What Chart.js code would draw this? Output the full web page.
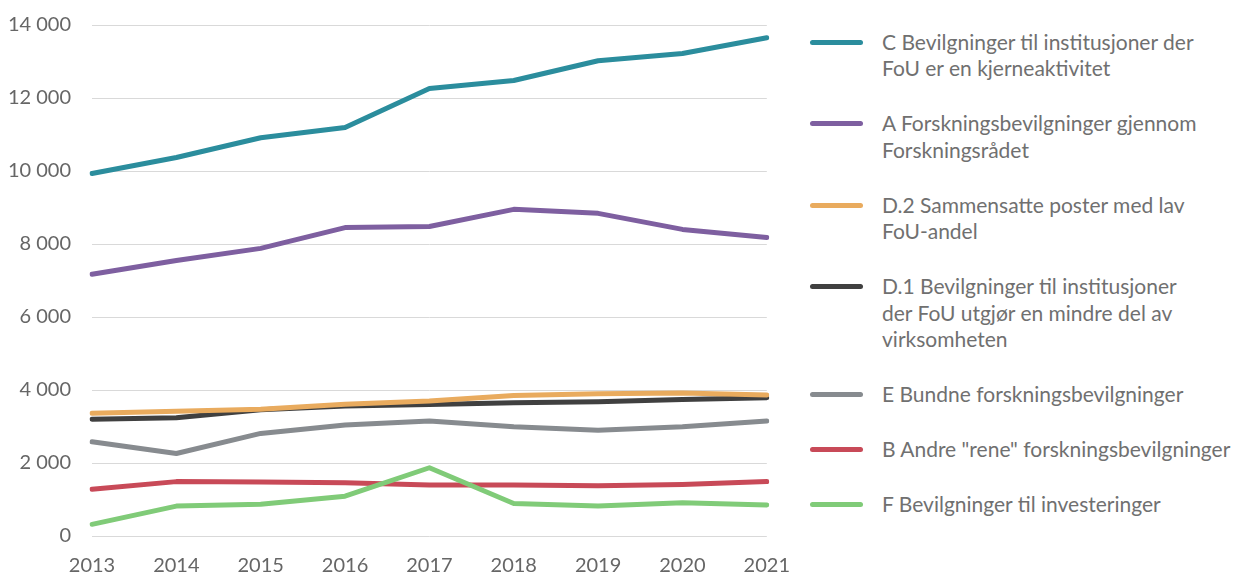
<!DOCTYPE html>
<html>
<head>
<meta charset="utf-8">
<script src="https://cdn.jsdelivr.net/npm/chart.js@4/dist/chart.umd.min.js"></script>
<style>
  html, body { margin: 0; padding: 0; background: #fff; }
  body { width: 1236px; height: 574px; position: relative; overflow: hidden; font-family: Lato, "Open Sans", sans-serif; }
  #wrap { position: absolute; left: 0; top: -8px; width: 808px; height: 582px; }
  #legend { position: absolute; left: 810px; top: 28.5px; color: #707070; font-size: 21px; line-height: 26.5px; }
  .item { display: flex; align-items: flex-start; margin-bottom: 28.5px; }
  .sw { width: 53px; height: 5px; border-radius: 3px; margin-top: 11px; margin-right: 19px; flex: none; }
  .txt { white-space: pre; }
</style>
</head>
<body>
<div id="wrap"><canvas id="c" width="808" height="582"></canvas></div>
<div id="legend"></div>
<script>
const years = ["2013","2014","2015","2016","2017","2018","2019","2020","2021"];
const seriesNames = [
  "C Bevilgninger til institusjoner der\nFoU er en kjerneaktivitet",
  "A Forskningsbevilgninger gjennom\nForskningsrådet",
  "D.2 Sammensatte poster med lav\nFoU-andel",
  "D.1 Bevilgninger til institusjoner\nder FoU utgjør en mindre del av\nvirksomheten",
  "E Bundne forskningsbevilgninger",
  "B Andre \"rene\" forskningsbevilgninger",
  "F Bevilgninger til investeringer"
];
const seriesC  = [9930, 10370, 10910, 11190, 12260, 12480, 13020, 13220, 13650];
const seriesA  = [7170, 7550, 7880, 8450, 8480, 8950, 8840, 8400, 8180];
const seriesD2 = [3360, 3420, 3470, 3610, 3700, 3850, 3900, 3920, 3860];
const seriesD1 = [3200, 3240, 3460, 3560, 3600, 3650, 3680, 3740, 3790];
const seriesE  = [2580, 2260, 2810, 3040, 3150, 2990, 2900, 2990, 3150];
const seriesB  = [1280, 1490, 1480, 1460, 1400, 1400, 1380, 1410, 1490];
const seriesF  = [320, 820, 870, 1090, 1870, 890, 820, 910, 850];
const yTicks = [0, 2000, 4000, 6000, 8000, 10000, 12000, 14000];

const colors = ["#2B8D9D", "#7E5FA0", "#E9AB5E", "#404040", "#878B8F", "#C84A58", "#80CB78"];
const values = [seriesC, seriesA, seriesD2, seriesD1, seriesE, seriesB, seriesF];
const drawOrder = [3, 4, 1, 5, 6, 2, 0];

const datasets = values.map((v, i) => ({
  label: seriesNames[i].replace(/\n/g, " "),
  data: v,
  borderColor: colors[i],
  backgroundColor: colors[i],
  borderWidth: 5,
  pointRadius: 0,
  pointHoverRadius: 0,
  tension: 0,
  borderCapStyle: "round",
  borderJoinStyle: "round",
  fill: false,
  order: drawOrder[i]
}));

const fmt = v => String(v).replace(/\B(?=(\d{3})+(?!\d))/g, " ");

new Chart(document.getElementById("c"), {
  type: "line",
  data: { labels: years, datasets },
  options: {
    responsive: false,
    animation: false,
    events: [],
    layout: { padding: { top: 14, right: 12, left: 0, bottom: 0 } },
    plugins: { legend: { display: false }, tooltip: { enabled: false } },
    scales: {
      x: {
        offset: false,
        grid: { display: false, drawTicks: false },
        border: { display: false },
        ticks: { color: "#666666", font: { family: "Lato", size: 20 }, padding: 18, maxRotation: 0, autoSkip: false },
        afterFit: s => { s.height = 38; }
      },
      y: {
        min: 0, max: 14000,
        afterBuildTicks: s => { s.ticks = yTicks.map(v => ({ value: v })); },
        grid: { color: "#D9D9D9", lineWidth: 1, drawTicks: false },
        border: { display: false },
        ticks: { color: "#666666", font: { family: "Lato", size: 20 }, padding: 21, callback: v => fmt(v) },
        afterFit: s => { s.width = 92; }
      }
    }
  }
});

const leg = document.getElementById("legend");
seriesNames.forEach((n, i) => {
  const it = document.createElement("div");
  it.className = "item";
  const sw = document.createElement("div");
  sw.className = "sw";
  sw.style.background = colors[i];
  const tx = document.createElement("div");
  tx.className = "txt";
  tx.textContent = n;
  it.appendChild(sw); it.appendChild(tx);
  leg.appendChild(it);
});
</script>
</body>
</html>
